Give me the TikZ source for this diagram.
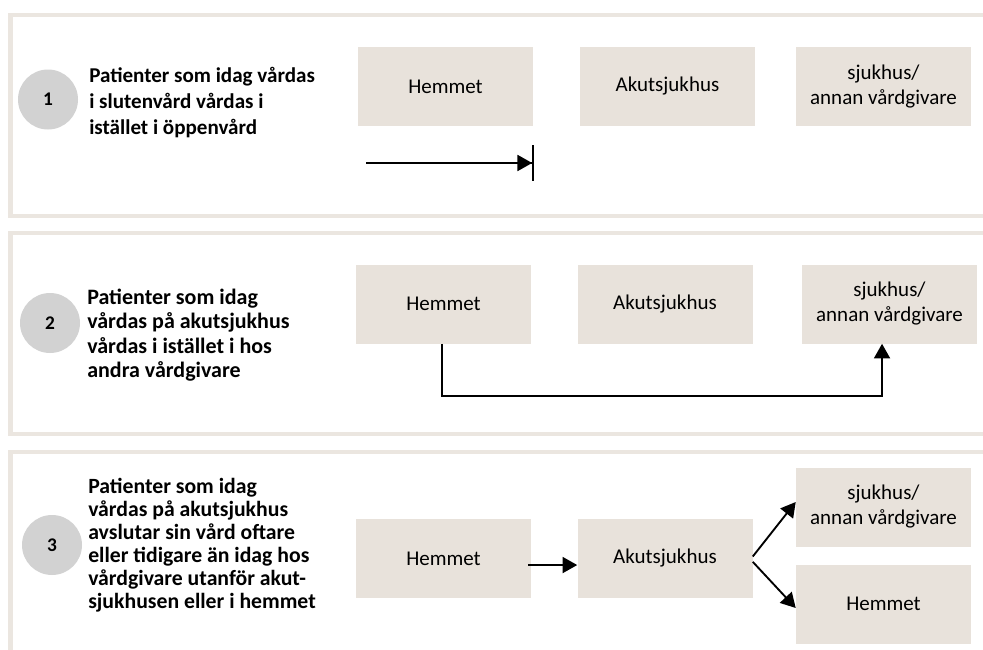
\documentclass[tikz,border=0pt]{standalone}
\usepackage{fontspec}
\setmainfont{Carlito}
\usetikzlibrary{arrows.meta}
\definecolor{framec}{HTML}{EBE6E0}
\definecolor{boxc}{HTML}{E8E2DB}
\definecolor{circc}{HTML}{D2D2D2}
\begin{document}
\begin{tikzpicture}[x=0.75pt,y=-0.75pt,
  panelframe/.style={draw=framec, line width=3.5pt},
  box/.style={fill=boxc, minimum width=131.25pt, minimum height=59.25pt, inner sep=0pt, align=center, font=\fontsize{15.75}{18.75}\selectfont},
  numc/.style={circle, fill=circc, minimum size=45pt, inner sep=0pt, font=\fontsize{14.5}{16}\selectfont\bfseries},
  desc/.style={anchor=west, align=left, inner sep=0pt},
  arr/.style={line width=1.4pt, -{Triangle[length=11pt,width=12pt]}}]
\useasboundingbox (0,0) rectangle (983,650);
\clip (0,0) rectangle (983,650);
% panel frames
\draw[panelframe] (10.5,15) rectangle (995,216);
\draw[panelframe] (10.5,233) rectangle (995,434);
\draw[panelframe] (10.5,452) rectangle (995,670);
% panel 1
\node[numc] (n1) at (48,99.5) {1};
\node[desc, font=\fontsize{15.8}{19.5}\selectfont\bfseries] (t1) at (89,103) {Patienter som idag vårdas\\i slutenvård vårdas i\\istället i öppenvård};
\node[box] (h1) at (445.5,86.5) {Hemmet};
\node[box] (a1) at (667.5,86.5) {Akutsjukhus};
\node[box] (s1) at (883.5,86.5) {sjukhus/\\annan vårdgivare};
\coordinate (a1s) at (366,163);
\coordinate (a1e) at (534,163);
\draw[line width=1.4pt, -{Triangle[length=11pt,width=12pt] Bar[width=27pt]}] (a1s) -- (a1e);
% panel 2
\node[numc] (n2) at (50,323) {2};
\node[desc, font=\fontsize{16.5}{18.2}\selectfont\bfseries] (t2) at (87,335) {Patienter som idag\\vårdas på akutsjukhus\\vårdas i istället i hos\\andra vårdgivare};
\node[box] (h2) at (443.5,304) {Hemmet};
\node[box] (a2) at (665,304) {Akutsjukhus};
\node[box] (s2) at (889.5,304) {sjukhus/\\annan vårdgivare};
\draw[arr] ([xshift=-1.1pt]h2.south) -- ++(0,52) -| ([xshift=-5.6pt]s2.south);
% panel 3
\node[numc] (n3) at (52,545) {3};
\node[desc, font=\fontsize{16.3}{17.3}\selectfont\bfseries] (t3) at (88,545) {Patienter som idag\\vårdas på akutsjukhus\\avslutar sin vård oftare\\eller tidigare än idag hos\\vårdgivare utanför akut-\\sjukhusen eller i hemmet};
\node[box] (h3) at (443.5,558.5) {Hemmet};
\node[box] (a3) at (665,558.5) {Akutsjukhus};
\node[box] (s3) at (883.5,507) {sjukhus/\\annan vårdgivare};
\node[box] (h3b) at (883.5,604) {Hemmet};
\draw[arr] ([xshift=-2.25pt,yshift=-4.9pt]h3.east) -- ([yshift=-4.9pt]a3.west);
\draw[arr] ([yshift=1.5pt]a3.east) -- ([yshift=3.75pt]s3.west);
\draw[arr] ([yshift=-2.5pt]a3.east) -- ([yshift=-3pt]h3b.west);
\end{tikzpicture}
\end{document}
